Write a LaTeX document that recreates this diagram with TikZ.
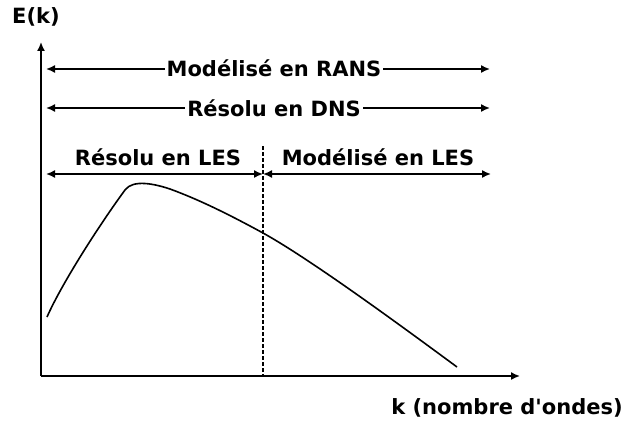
\documentclass[tikz,border=0pt]{standalone}
\usepackage{fontspec}
\setmainfont{DejaVu Sans}
\usetikzlibrary{arrows.meta}

\begin{document}
\begin{tikzpicture}[
      x=1pt, y=1pt, % one unit = one pixel of the sketch
      >={Latex[length=9pt,width=8pt]},
      axis/.style={->, line width=1.6pt},
      span arrow/.style={<->, line width=1.6pt},
      span label/.style={fill=white, inner xsep=2pt, inner ysep=0pt, anchor=base, font=\bfseries\fontsize{21}{24}\selectfont},
      axis label/.style={font=\bfseries\fontsize{21}{24}\selectfont}
    ]

    \useasboundingbox (0,0) rectangle (628,421);

    % Axes
    \coordinate (origin) at (41,45);
    \coordinate (ytip) at (41,379);
    \coordinate (xtip) at (520,45);
    \draw [axis] (origin) -- (ytip);
    \draw [axis] (origin) -- (xtip);
    \node[axis label] (Ek) at (36,404) {E(k)};
    \node[axis label] (klabel) at (507,13) {k (nombre d\textquotesingle ondes)};

    % Cut-off between resolved and modelled scales
    \coordinate (cut top) at (263,275);
    \coordinate (cut bottom) at (263,45);
    \draw [dashed, dash pattern=on 4pt off 2pt, line width=1.2pt] (cut top) -- (cut bottom);

    % Energy spectrum
    \draw [line width=1.6pt] (47,104)
        .. controls (62,138) and (100,197) .. (125,231)
        .. controls (133,242) and (155,237) .. (170,232)
        .. controls (200,221) and (230,206) .. (263,188)
        .. controls (310,162) and (400,96) .. (457,54);

    % Spans of each approach
    \coordinate (rans left) at (46,352);
    \coordinate (rans right) at (490,352);
    \draw [span arrow] (rans left) -- (rans right);
    \node[span label] (rans) at (274,344) {Modélisé en RANS};

    \coordinate (dns left) at (46,313);
    \coordinate (dns right) at (490,313);
    \draw [span arrow] (dns left) -- (dns right);
    \node[span label] (dns) at (274,305) {Résolu en DNS};

    \coordinate (les left) at (46,247);
    \coordinate (les mid) at (263,247);
    \coordinate (les right) at (491,247);
    \draw [span arrow] (les left) -- (les mid);
    \draw [span arrow] (les mid) -- (les right);
    \node[span label] (les res) at (158,256) {Résolu en LES};
    \node[span label] (les mod) at (378,256) {Modélisé en LES};

  \end{tikzpicture}
\end{document}
